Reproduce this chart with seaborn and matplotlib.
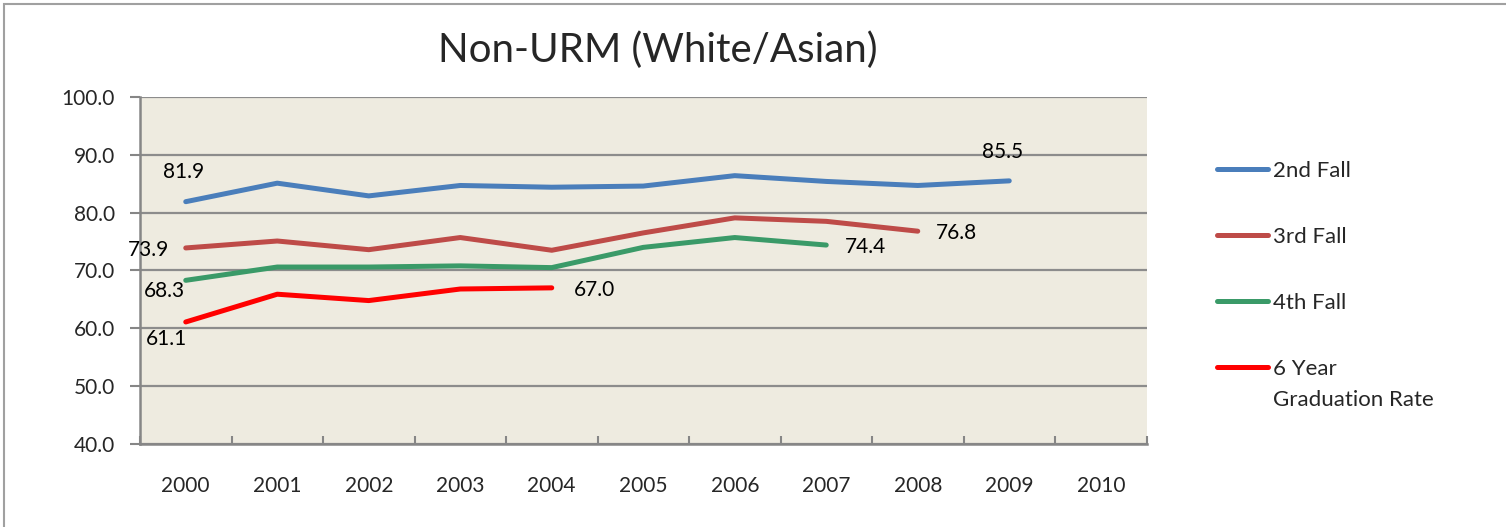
import matplotlib
matplotlib.use("Agg")
import matplotlib.pyplot as plt
import matplotlib.patches as patches
from matplotlib.ticker import FixedLocator, NullFormatter
import seaborn as sns
import numpy as np
import pandas as pd

# Values (NaN where the series has no value)
years = [2000, 2001, 2002, 2003, 2004, 2005, 2006, 2007, 2008, 2009, 2010]
second_fall = [81.9, 85.1, 82.9, 84.7, 84.4, 84.6, 86.4, 85.4, 84.7, 85.5, np.nan]
third_fall = [73.9, 75.1, 73.6, 75.7, 73.5, 76.5, 79.1, 78.5, 76.8, np.nan, np.nan]
fourth_fall = [68.3, 70.6, 70.6, 70.8, 70.5, 74.0, 75.7, 74.4, np.nan, np.nan, np.nan]
six_year = [61.1, 65.9, 64.8, 66.8, 67.0, np.nan, np.nan, np.nan, np.nan, np.nan, np.nan]

series_names = ["2nd Fall", "3rd Fall", "4th Fall", "6 Year"]
colors = ["#4A7EBB", "#BE4B48", "#3A9A68", "#FF0000"]

# labelled points: (series, year, text offset in points)
labels = [
    ("2nd Fall", 2000, (-1.5, 22.5)),
    ("2nd Fall", 2009, (-4.5, 22.5)),
    ("3rd Fall", 2000, (-27, 0)),
    ("3rd Fall", 2008, (28, 0)),
    ("4th Fall", 2000, (-15, -6.5)),
    ("4th Fall", 2007, (28.5, 0)),
    ("6 Year", 2000, (-14, -11)),
    ("6 Year", 2004, (30.5, 0)),
]

df = pd.DataFrame({"year": years, "2nd Fall": second_fall, "3rd Fall": third_fall,
                   "4th Fall": fourth_fall, "6 Year": six_year})
long = df.melt(id_vars="year", var_name="series", value_name="rate").dropna()

sns.set_style("white")
plt.rcParams["font.family"] = ["Lato", "DejaVu Sans"]

fig = plt.figure(figsize=(15.06, 5.27), dpi=100)
ax = fig.add_axes([140 / 1506, 1 - 444 / 527, (1146.5 - 140) / 1506, (444 - 97) / 527])
ax.set_facecolor("#EEEBE0")

sns.lineplot(data=long, x="year", y="rate", hue="series", hue_order=series_names,
             palette=dict(zip(series_names, colors)), linewidth=3.6, legend=False,
             solid_capstyle="round", ax=ax)

ax.set_xlim(1999.5, 2010.5)
ax.set_ylim(40, 100)
ax.set_yticks(np.arange(40, 101, 10))
ax.set_yticklabels([f"{v:.1f}" for v in np.arange(40, 101, 10)])
ax.set_xticks(years)
ax.set_xticklabels([str(y) for y in years])
ax.xaxis.set_minor_locator(FixedLocator(np.arange(1999.5, 2011, 1)))
ax.xaxis.set_minor_formatter(NullFormatter())
ax.set_xlabel("")
ax.set_ylabel("")

ax.grid(axis="y", color="#8C8C8C", linewidth=1.6)
ax.set_axisbelow(True)
for s in ["top", "right"]:
    ax.spines[s].set_visible(False)
for s in ["left", "bottom"]:
    ax.spines[s].set_color("#868686")
    ax.spines[s].set_linewidth(1.8)

ax.tick_params(axis="x", which="major", length=0, pad=23, labelsize=15)
ax.tick_params(axis="x", which="minor", direction="in", length=5.5, width=1.5,
               color="#868686", bottom=True)
ax.tick_params(axis="y", which="major", direction="out", length=7, width=1.5,
               color="#868686", left=True, pad=11, labelsize=15)

# data labels
lookup = df.set_index("year")
for name, yr, off in labels:
    val = lookup.loc[yr, name]
    ax.annotate(f"{val:.1f}", xy=(yr, val), xytext=off, textcoords="offset points",
                ha="center", va="center_baseline", fontsize=15, color="black")

# legend
handles = ax.get_lines()[:4]
leg = ax.legend(handles, series_names, loc="upper left",
                bbox_to_anchor=(1217 / 1506, 1 - 161 / 527),
                bbox_transform=fig.transFigure, frameon=False, fontsize=16,
                handlelength=2.3, handletextpad=0.2, labelspacing=2.07,
                borderpad=0, borderaxespad=0)

fig.text(658 / 1506, 1 - 50 / 527, "Non-URM (White/Asian)", ha="center",
         va="center", fontsize=29)

# outer chart border
fig.patches.append(patches.Rectangle((4 / 1506, -0.1), 1.2, 1.1 - 4 / 527,
                                     transform=fig.transFigure, fill=False,
                                     edgecolor="#A0A0A0", linewidth=1.5))

# second line of the last legend label, placed under "6 Year"
fig.canvas.draw()
bb = leg.get_texts()[-1].get_window_extent()
fig.text(bb.x0 / 1506, (bb.y0 - 31) / 527, "Graduation Rate", ha="left",
         va="bottom", fontsize=16)

fig.savefig("out.png", dpi=100)
